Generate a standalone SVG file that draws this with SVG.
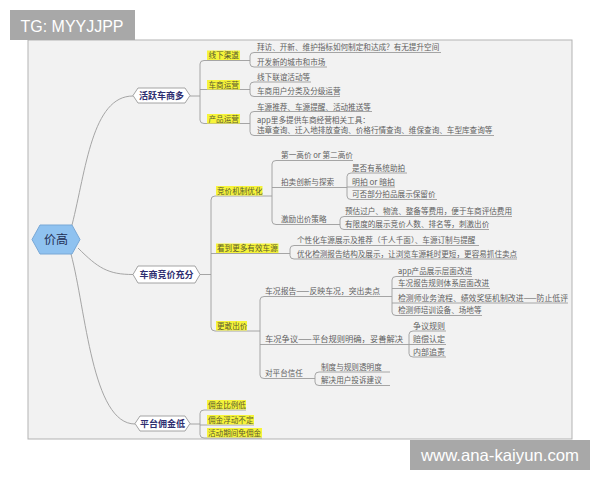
<svg xmlns="http://www.w3.org/2000/svg" width="600" height="480" viewBox="0 0 600 480">
<style>
.ln{fill:none;stroke:#9c9c9c;stroke-width:0.9}
.t{font-family:"Noto Sans CJK SC","Liberation Sans",sans-serif;font-size:7.6px;fill:#5e5e5e}
.hl{fill:#f6f43a}
.th{font-family:"Noto Sans CJK SC","Liberation Sans",sans-serif;font-size:7.6px;fill:#5a5a30}
.hex{fill:#ffffff;stroke:#9a9a9a;stroke-width:0.9}
.t1{font-family:"Noto Sans CJK SC","Liberation Sans",sans-serif;font-size:9px;font-weight:bold;fill:#2e2e70;text-anchor:middle}
.wm{fill:#a8a8a8}
.wt{font-family:"Liberation Sans","DejaVu Sans",sans-serif;font-size:16.5px;fill:#ffffff}
</style>
<rect width="600" height="480" fill="#ffffff"/>
<rect x="28" y="40" width="544" height="399" fill="#f2f2f2" stroke="#b3b3b3" stroke-width="1"/>

<g id="connectors">
<path class="ln" d="M72,225 C86,170 92,96 133,96"/>
<path class="ln" d="M78,248 C98,268 108,274.5 133,274.5"/>
<path class="ln" d="M71,254 C86,310 92,424 135,424"/>
<path class="ln" d="M190,96 H200 M200,64 Q200,60.5 204,60.5 H240 M200,89.5 H240 M200,120 Q200,123.5 204,123.5 H240 M200,64 V120"/>
<path class="ln" d="M240,60.5 H250 M250,56 Q250,52.5 254,52.5 H441 M250,63.5 Q250,67 254,67 H327 M250,56 V63.5"/>
<path class="ln" d="M240,89.5 H250 M250,85.5 Q250,82 254,82 H311 M250,93 Q250,96.5 254,96.5 H340 M250,85.5 V93"/>
<path class="ln" d="M240,123.5 H250 M250,115 Q250,111.5 254,111.5 H372 M250,131.5 Q250,135.5 254,135.5 H494 M250,115 V131.5"/>
<path class="ln" d="M200,274.5 H211 M211,200 Q211,196 215,196 H262 M211,253.5 H278 M211,327 Q211,331 215,331 H247 M211,200 V327"/>
<path class="ln" d="M262,196 H272 M272,164 Q272,160.5 276,160.5 H353 M272,187.5 H333 M272,221 Q272,224.5 276,224.5 H317 M272,164 V221"/>
<path class="ln" d="M333,187.5 H347 M347,176.5 Q347,173 351,173 H407 M347,187 H395 M347,196 Q347,199.5 351,199.5 H437 M347,176.5 V196"/>
<path class="ln" d="M317,224.5 H340 M340,220 Q340,216.5 344,216.5 H512 M340,226 Q340,229.5 344,229.5 H489 M340,220 V226"/>
<path class="ln" d="M278,253.5 H290 M290,249 Q290,245.5 294,245.5 H479 M290,255.5 Q290,259 294,259 H517 M290,249 V255.5"/>
<path class="ln" d="M247,331 H260 M260,300 Q260,296.5 264,296.5 H380 M260,344.5 H407 M260,375 Q260,378.5 264,378.5 H303 M260,300 V375"/>
<path class="ln" d="M380,296.5 H392 M392,280 Q392,276.5 396,276.5 H472 M392,288.5 H490 M392,303 H568 M392,312 Q392,315.5 396,315.5 H482 M392,280 V312"/>
<path class="ln" d="M407,344.5 H409 M409,334.5 Q409,331 413,331 H446 M409,344.5 H446 M409,353.5 Q409,357 413,357 H446 M409,334.5 V353.5"/>
<path class="ln" d="M303,378.5 H315 M315,375.5 Q315,372 319,372 H390 M315,382 Q315,385.5 319,385.5 H390 M315,375.5 V382"/>
<path class="ln" d="M190,424 H200 M200,413.5 Q200,410 204,410 H246 M200,425 H254 M200,434.5 Q200,438 204,438 H262 M200,413.5 V434.5"/>
</g>

<g id="root">
<polygon points="32,239.5 40,225 72,225 80,239.5 72,254 40,254" fill="#8fc2f0" stroke="#79a8d6" stroke-width="1"/>
<text x="56" y="244" font-family="Noto Sans CJK SC,sans-serif" font-size="12" fill="#1f2f55" text-anchor="middle">价高</text>
</g>

<g id="n-huoyue">
<polygon class="hex" points="133,95.5 138,88 185,88 190,95.5 185,103 138,103"/>
<text class="t1" x="161.5" y="98.8">活跃车商多</text>
</g>
<g id="n-xianxia">
<rect class="hl" x="207" y="50.5" width="33" height="9.5"/>
<text class="th" x="208.5" y="58.3">线下渠道</text>
<text class="t" x="257" y="50">拜访、开新、维护指标如何制定和达成？有无提升空间</text>
<text class="t" x="257" y="64.8">开发新的城市和市场</text>
</g>
<g id="n-cheshang">
<rect class="hl" x="207" y="80" width="33" height="9.5"/>
<text class="th" x="208.5" y="87.8">车商运营</text>
<text class="t" x="257" y="79.8">线下联谊活动等</text>
<text class="t" x="257" y="94.3">车商用户分类及分级运营</text>
</g>
<g id="n-chanpin">
<rect class="hl" x="207" y="114" width="33" height="9.5"/>
<text class="th" x="208.5" y="121.8">产品运营</text>
<text class="t" x="257" y="109.5">车源推荐、车源提醒、活动推送等</text>
<text class="t" x="257" y="123" textLength="113" lengthAdjust="spacingAndGlyphs">app里多提供车商经营相关工具：</text>
<text class="t" x="257" y="133.3">违章查询、迁入地排放查询、价格行情查询、维保查询、车型库查询等</text>
</g>

<g id="n-jingjia">
<polygon class="hex" points="133,274.5 138,266 195,266 200,274.5 195,283 138,283"/>
<text class="t1" x="166.5" y="277.8">车商竞价充分</text>
</g>
<g id="n-jizhi">
<rect class="hl" x="216" y="186" width="46.5" height="9.5"/>
<text class="th" x="217" y="193.8">竞价机制优化</text>
<text class="t" x="281" y="158.3" textLength="72" lengthAdjust="spacingAndGlyphs">第一高价 or 第二高价</text>
<text class="t" x="281" y="185.3">拍卖创新与探索</text>
<text class="t" x="352" y="170.8">是否有系统助拍</text>
<text class="t" x="352" y="184.8" textLength="43" lengthAdjust="spacingAndGlyphs">明拍 or 暗拍</text>
<text class="t" x="352" y="197.3">可否部分拍品展示保留价</text>
<text class="t" x="281" y="222.3">激励出价策略</text>
<text class="t" x="345" y="214.3">预估过户、物流、整备等费用，便于车商评估费用</text>
<text class="t" x="345" y="227.3">有限度的展示竞价人数、排名等，刺激出价</text>
</g>
<g id="n-cheyuan">
<rect class="hl" x="216" y="243.5" width="62.5" height="9.5"/>
<text class="th" x="217" y="251.3">看到更多有效车源</text>
<text class="t" x="297" y="243.3">个性化车源展示及推荐（千人千面）、车源订制与提醒</text>
<text class="t" x="297" y="256.8">优化检测报告结构及展示，让浏览车源耗时更短，更容易抓住卖点</text>
</g>
<g id="n-gengan">
<rect class="hl" x="216" y="321" width="31" height="9.5"/>
<text class="th" x="217" y="328.8">更敢出价</text>
<text class="t" x="265" y="294.3" textLength="115" lengthAdjust="spacingAndGlyphs">车况报告——反映车况，突出卖点</text>
<text class="t" x="398" y="274.3" textLength="74" lengthAdjust="spacingAndGlyphs">app产品展示层面改进</text>
<text class="t" x="398" y="286.3">车况报告规则体系层面改进</text>
<text class="t" x="398" y="300.8" textLength="170" lengthAdjust="spacingAndGlyphs">检测师业务流程、绩效奖惩机制改进——防止低评</text>
<text class="t" x="398" y="313.3">检测师培训设备、场地等</text>
<text class="t" x="265" y="342.3" textLength="138" lengthAdjust="spacingAndGlyphs">车况争议——平台规则明确，妥善解决</text>
<text class="t" x="413" y="329" textLength="32" lengthAdjust="spacingAndGlyphs">争议规则</text>
<text class="t" x="413" y="342.3" textLength="32" lengthAdjust="spacingAndGlyphs">赔偿认定</text>
<text class="t" x="413" y="355" textLength="32" lengthAdjust="spacingAndGlyphs">内部追责</text>
<text class="t" x="265" y="376.3">对平台信任</text>
<text class="t" x="321" y="370">制度与规则透明度</text>
<text class="t" x="321" y="383.3">解决用户投诉建议</text>
</g>

<g id="n-yongjin">
<polygon class="hex" points="135,423.5 140,416 185,416 190,423.5 185,431 140,431"/>
<text class="t1" x="162.5" y="426.8">平台佣金低</text>
</g>
<g id="n-yongjin-leaves">
<rect class="hl" x="207" y="400" width="39" height="9.5"/>
<text class="th" x="208" y="407.8">佣金比例低</text>
<rect class="hl" x="207" y="415" width="47" height="9.5"/>
<text class="th" x="208" y="422.8">佣金浮动不定</text>
<rect class="hl" x="207" y="428" width="55" height="9.5"/>
<text class="th" x="208" y="435.8">活动期间免佣金</text>
</g>

<g id="watermarks">
<rect class="wm" x="10" y="10" width="125" height="30"/>
<text class="wt" x="20.5" y="32" textLength="103" lengthAdjust="spacingAndGlyphs">TG: MYYJJPP</text>
<rect class="wm" x="410" y="440" width="180" height="30"/>
<text class="wt" x="421" y="461" textLength="158" lengthAdjust="spacingAndGlyphs">www.ana-kaiyun.com</text>
</g>
</svg>
